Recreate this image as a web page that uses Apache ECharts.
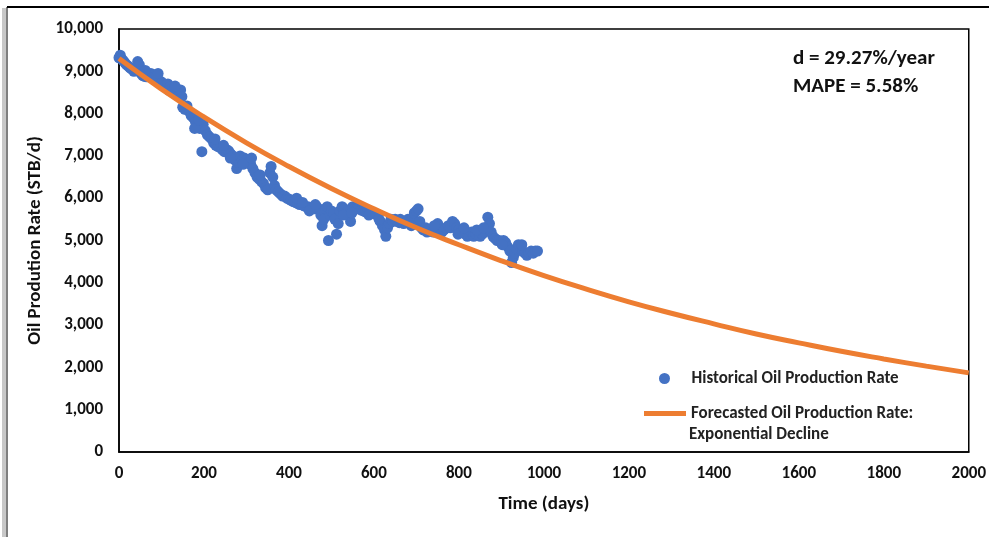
<!DOCTYPE html>
<html>
<head>
<meta charset="utf-8">
<script src="https://cdn.jsdelivr.net/npm/echarts@6/dist/echarts.min.js"></script>
<style>
html,body{margin:0;padding:0;background:#fff;}
#chart{width:989px;height:537px;}
</style>
</head>
<body>
<div id="chart"></div>
<script>
// Historical data (days, STB/d)
const histDays = [0,3,6,10,14,18,22,26,30,35,40,44,48,52,56,60,65,70,75,80,85,90,95,100,105,110,115,120,125,130,135,140,145,148,150,155,160,165,170,175,180,185,190,195,198,203,208,213,218,223,228,233,238,243,248,253,258,263,268,273,277,281,285,290,295,300,305,310,315,320,325,330,335,340,345,350,355,358,362,366,370,375,380,385,390,395,400,405,410,415,420,425,430,435,440,445,450,455,460,465,470,475,478,482,486,490,493,497,500,505,508,512,516,520,525,530,535,540,545,550,555,560,565,570,575,580,585,590,595,600,605,610,615,620,625,628,632,636,640,645,650,655,660,665,670,675,680,685,690,695,700,704,708,712,716,720,725,730,735,740,745,750,755,760,765,770,775,780,785,790,795,800,805,810,815,820,825,830,835,840,845,850,855,860,865,868,872,876,880,885,890,895,900,905,910,915,920,924,928,932,936,940,945,950,955,960,965,970,975,980,985,62,78,92,118,132,178,188,226,246,262,292,312,332,418,432,448,462,528,548,588,612,662,688,722,742,798,812,842,858,902,948];
const histRates = [9320,9380,9300,9250,9200,9150,9120,9080,9050,9000,9100,9230,9150,8950,8900,8880,8870,8900,8950,8920,8850,8800,8780,8750,8700,8680,8700,8620,8560,8500,8450,8500,8560,8400,8150,8100,8180,8050,7950,7900,7800,7700,7650,7100,7750,7600,7500,7450,7400,7300,7250,7220,7200,7150,7100,7150,7120,7050,7000,6900,6700,6850,7000,6900,6950,6900,6850,6800,6700,6600,6500,6450,6400,6350,6250,6200,6600,6750,6500,6300,6200,6150,6100,6050,6050,6000,5980,5950,5920,5900,5880,5850,5850,5820,5800,5800,5780,5760,5750,5800,5750,5600,5350,5500,5750,5800,5000,5600,5700,5650,5500,5150,5400,5700,5800,5750,5650,5700,5450,5800,5750,5750,5800,5720,5700,5680,5720,5700,5650,5650,5620,5600,5450,5350,5250,5100,5300,5400,5500,5450,5500,5450,5420,5450,5400,5450,5500,5450,5500,5650,5700,5750,5450,5300,5250,5250,5200,5250,5220,5200,5300,5400,5250,5200,5250,5300,5350,5300,5450,5400,5300,5250,5200,5200,5150,5100,5150,5200,5100,5150,5200,5100,5150,5200,5300,5550,5400,5200,5100,5050,5000,5000,4950,5000,4950,4850,4750,4480,4600,4700,4800,4900,4800,4750,4700,4650,4700,4750,4700,4750,4750,9020,8850,8950,8550,8650,7650,7850,7400,7250,6950,6800,6950,6550,6000,5900,5700,5850,5600,5650,5600,5500,5500,5350,5300,5350,5150,5300,5250,5300,4900,4900];

// Forecast curve (days, STB/d)
const fcDays = [0,100,200,300,400,500,600,700,800,900,1000,1100,1200,1300,1400,1500,1600,1700,1800,1900,2000];
const fcRates = [9300,8580,7920,7310,6750,6230,5750,5300,4900,4520,4170,3850,3550,3280,3030,2790,2580,2380,2200,2030,1870];

const xTicks = [0,200,400,600,800,1000,1200,1400,1600,1800,2000];
const yTicks = [0,1000,2000,3000,4000,5000,6000,7000,8000,9000,10000];

const seriesNames = ['Historical Oil Production Rate', 'Forecasted Oil Production Rate:'];
const legendSecondLine = 'Exponential Decline';
const annotationLines = ['d = 29.27%/year', 'MAPE = 5.58%'];

const FONT = "Carlito, Lato, 'Open Sans', sans-serif";

const chart = echarts.init(document.getElementById('chart'), null, {renderer: 'canvas'});

const option = {
  backgroundColor: '#ffffff',
  animation: false,
  grid: {
    left: 119, right: 17, top: 29, bottom: 85,
    show: true, borderColor: '#000', borderWidth: 1.5, backgroundColor: 'transparent'
  },
  xAxis: {
    type: 'value', min: xTicks[0], max: xTicks[xTicks.length-1], interval: 200,
    name: 'Time (days)', nameLocation: 'middle', nameGap: 43,
    nameTextStyle: {fontFamily: FONT, fontWeight: 'bold', fontSize: 19, color: '#111'},
    axisLine: {show: true, lineStyle: {color: '#000', width: 1.5}},
    axisTick: {show: false},
    splitLine: {show: false},
    axisLabel: {fontFamily: FONT, fontWeight: 'bold', fontSize: 17, color: '#111', margin: 13,
      formatter: v => String(v)}
  },
  yAxis: {
    type: 'value', min: yTicks[0], max: yTicks[yTicks.length-1], interval: 1000,
    name: 'Oil Prodution Rate (STB/d)', nameLocation: 'middle', nameGap: 67, nameRotate: 90,
    nameTextStyle: {fontFamily: FONT, fontWeight: 'bold', fontSize: 19, color: '#111'},
    axisLine: {show: true, lineStyle: {color: '#000', width: 1.5}},
    axisTick: {show: false},
    splitLine: {show: false},
    axisLabel: {
      fontFamily: FONT, fontWeight: 'bold', fontSize: 17, color: '#111', margin: 16,
      formatter: v => v.toLocaleString('en-US')
    }
  },
  legend: [
    {
      data: [seriesNames[0]], left: 654, top: 365, icon: 'circle',
      itemWidth: 44, itemHeight: 11, itemGap: 0,
      textStyle: {fontFamily: FONT, fontWeight: 'bold', fontSize: 17, color: '#222'}
    },
    {
      data: [seriesNames[1]], left: 639, top: 400, icon: 'rect',
      itemWidth: 42, itemHeight: 5, itemGap: 0,
      textStyle: {fontFamily: FONT, fontWeight: 'bold', fontSize: 17, color: '#222'}
    }
  ],
  graphic: [
    {type: 'text', left: 689, top: 426, style: {text: legendSecondLine, font: "bold 17px " + FONT, fill: '#222'}},
    {type: 'text', left: 793, top: 45, style: {text: annotationLines.join('\n'), font: "bold 21px " + FONT, fill: '#111', lineHeight: 28}},
    {type: 'rect', shape: {x: 2, y: 8, width: 4, height: 529}, style: {fill: '#c8c8c8'}},
    {type: 'line', shape: {x1: 7, y1: 7, x2: 7, y2: 537}, style: {stroke: '#555', lineWidth: 1.5}},
    {type: 'line', shape: {x1: 7, y1: 7, x2: 989, y2: 7}, style: {stroke: '#000', lineWidth: 2}}
  ],
  series: [
    {
      name: seriesNames[0], type: 'scatter', symbol: 'circle', symbolSize: 11,
      itemStyle: {color: '#4472C4', opacity: 1},
      data: histDays.map((d, i) => [d, histRates[i]]), z: 2
    },
    {
      name: seriesNames[1], type: 'line', smooth: true, showSymbol: false, symbol: 'none',
      lineStyle: {color: '#ED7D31', width: 5}, itemStyle: {color: '#ED7D31'},
      data: fcDays.map((d, i) => [d, fcRates[i]]), z: 3
    }
  ]
};
chart.setOption(option);
</script>
</body>
</html>
